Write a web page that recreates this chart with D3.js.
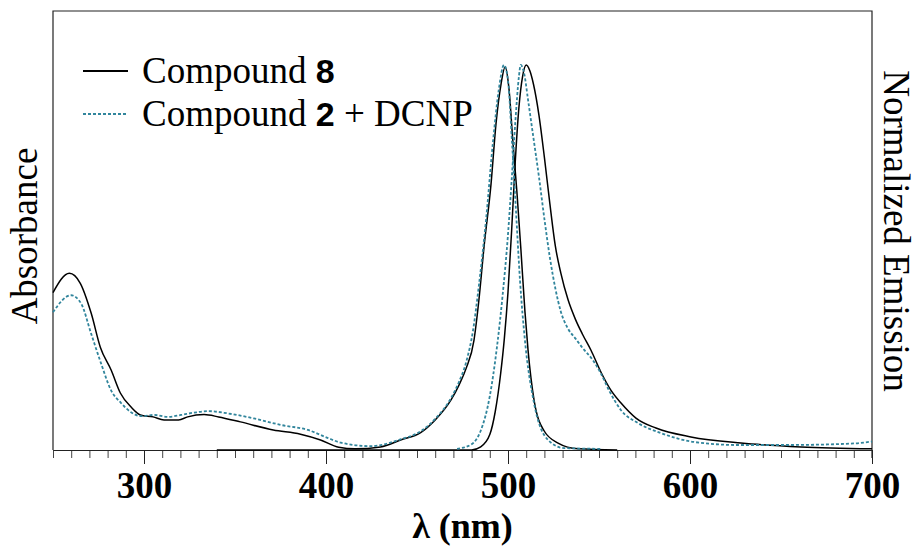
<!DOCTYPE html>
<html>
<head>
<meta charset="utf-8">
<script src="https://cdn.jsdelivr.net/npm/d3@7"></script>
<style>
  body { margin: 0; background: #fff; }
  svg text { font-family: "Liberation Serif", "Times New Roman", serif; }
</style>
</head>
<body>
<svg id="chart" width="916" height="547"></svg>
<script>
// absorbance, compound 8 (wavelength nm, relative)
var abs8 = [
  [250, 0.409], [259, 0.459], [265, 0.433], [271, 0.355], [276, 0.267], [282, 0.207],
  [287, 0.148], [293, 0.111], [298, 0.091], [305, 0.086], [311, 0.078], [319, 0.078],
  [324, 0.086], [333, 0.092], [341, 0.086], [353, 0.073], [371, 0.052], [386, 0.041],
  [397, 0.026], [407, 0.007], [416, 0.003], [430, 0.008], [441, 0.026], [452, 0.045],
  [460, 0.078], [468.7, 0.13], [473, 0.168], [477, 0.212], [481.3, 0.285], [484, 0.389],
  [486.8, 0.526], [490.7, 0.692], [493.4, 0.847], [496.2, 0.951], [498.4, 0.995],
  [500.5, 0.94], [502.7, 0.80], [504.9, 0.67], [507.1, 0.52], [509.3, 0.36], [511, 0.26],
  [514.3, 0.13], [519.8, 0.05], [527.5, 0.018], [538.5, 0.003], [560, 0.0]
];

// emission, compound 8
var em8 = [
  [340, 0.0], [480, 0.0], [485, 0.008], [490, 0.04], [493, 0.10], [496, 0.20], [498, 0.29],
  [500, 0.41], [502, 0.57], [504, 0.75], [506, 0.89], [508, 0.97], [510, 1.0],
  [512, 0.985], [514, 0.95], [517, 0.87], [520, 0.76], [523, 0.64], [526, 0.53],
  [529, 0.46], [533, 0.39], [537, 0.34], [541, 0.30], [545.6, 0.259], [551.1, 0.202],
  [556.6, 0.155], [562.1, 0.122], [570.3, 0.083], [581.3, 0.057], [600.5, 0.034],
  [628, 0.018], [661, 0.008], [700, 0.003]
];

// absorbance, compound 2 + DCNP
var abs2 = [
  [250, 0.358], [259.9, 0.402], [265.4, 0.381], [270.9, 0.303], [276.4, 0.225],
  [281.9, 0.155], [287.4, 0.122], [292.9, 0.098], [298.4, 0.088], [305.5, 0.091],
  [313.2, 0.086], [320.3, 0.091], [327.5, 0.097], [335.2, 0.101], [346.2, 0.095],
  [360.4, 0.082], [375.3, 0.065], [390.1, 0.052], [401.1, 0.031], [408.2, 0.019],
  [424.7, 0.010], [441.2, 0.028], [452.2, 0.049], [460.4, 0.083], [468.7, 0.135],
  [473, 0.176], [477, 0.228], [480.8, 0.311], [484, 0.427], [487.9, 0.596],
  [491.8, 0.803], [495, 0.938], [497.8, 1.0], [500, 0.96], [502.2, 0.80], [504.4, 0.62],
  [506.6, 0.44], [509.3, 0.285], [514.3, 0.122], [522, 0.026], [530.8, 0.005], [551, 0.003]
];

// emission, compound 2 + DCNP
var em2 = [
  [472, 0.003], [480, 0.015], [485, 0.05], [490, 0.14], [494, 0.27], [497, 0.40],
  [500, 0.56], [502, 0.70], [504, 0.85], [506, 0.97], [507, 1.0], [509, 0.975],
  [511, 0.91], [514, 0.81], [517, 0.71], [520, 0.60], [523, 0.50], [526, 0.42],
  [529, 0.36], [533, 0.315], [537, 0.29], [541, 0.265], [546.7, 0.233], [551, 0.199],
  [555.5, 0.155], [562, 0.104], [571.4, 0.070], [584, 0.044], [602, 0.021], [626, 0.013],
  [654, 0.013], [690, 0.017], [700, 0.022]
];

var majorTicks = [300, 400, 500, 600, 700];

var svg = d3.select("#chart"),
    margin = {top: 11, left: 53, bottom: 97, right: 44},
    width = +svg.attr("width"),
    height = +svg.attr("height");

var x = d3.scaleLinear()
    .domain([250, 700])
    .range([margin.left, width - margin.right]);

var y = d3.scaleLinear()
    .domain([0, 1])
    .range([height - margin.bottom, 65]);

var black = "#000",
    teal = "#31859c";

// frame
svg.append("path")
    .attr("d", `M${x(250)},${y(0)}V${margin.top}H${x(700)}V${y(0) + 8}`)
    .attr("fill", "none")
    .attr("stroke", "#222")
    .attr("stroke-width", 1.2);

// minor ticks every 10 nm
var xMinor = svg.append("g")
    .attr("transform", `translate(0,${y(0)})`)
    .call(d3.axisBottom(x).tickValues(d3.range(250, 701, 10)).tickSize(8).tickFormat(""));
xMinor.select(".domain").remove();
xMinor.selectAll("line").attr("stroke", "#444");

var xAxis = svg.append("g")
    .attr("transform", `translate(0,${y(0)})`)
    .call(d3.axisBottom(x).tickValues(majorTicks).tickSize(14).tickSizeOuter(0).tickPadding(8));
xAxis.select(".domain").attr("stroke", "#222").attr("stroke-width", 1.2);
xAxis.selectAll("line").attr("stroke", "#222");
xAxis.selectAll("text")
    .attr("fill", "#000")
    .style("font-family", "'Liberation Serif', serif")
    .style("font-weight", "bold")
    .style("font-size", "37px")
    .attr("dy", "0.7em");

var line = d3.line()
    .x(d => x(d[0]))
    .y(d => y(d[1]))
    .curve(d3.curveMonotoneX);

var series = [
  {data: abs8, color: black, dash: null},
  {data: em8, color: black, dash: null},
  {data: abs2, color: teal, dash: "3,2"},
  {data: em2, color: teal, dash: "3,2"}
];

svg.selectAll(".curve")
    .data(series)
    .enter().append("path")
    .attr("class", "curve")
    .attr("d", d => line(d.data))
    .attr("fill", "none")
    .attr("stroke", d => d.color)
    .attr("stroke-width", d => d.dash ? 1.8 : 1.5)
    .attr("stroke-dasharray", d => d.dash);

// axis titles
svg.append("text")
    .attr("x", (x(250) + x(700)) / 2)
    .attr("y", 538)
    .attr("text-anchor", "middle")
    .style("font-size", "36px")
    .style("font-weight", "bold")
    .text("λ (nm)");

svg.append("text")
    .attr("transform", "translate(37,236) rotate(-90)")
    .attr("text-anchor", "middle")
    .style("font-size", "37px")
    .text("Absorbance");

svg.append("text")
    .attr("transform", "translate(884,231) rotate(90)")
    .attr("text-anchor", "middle")
    .style("font-size", "37px")
    .text("Normalized Emission");

// legend
var legend = [
  {pre: "Compound ", num: "8", post: "", color: black, dash: null},
  {pre: "Compound ", num: "2", post: " + DCNP", color: teal, dash: "3,2"}
];

var lg = svg.selectAll(".legend")
    .data(legend)
    .enter().append("g")
    .attr("class", "legend")
    .attr("transform", (d, i) => `translate(0,${71 + i * 43})`);

lg.append("line")
    .attr("x1", 83).attr("x2", 128)
    .attr("stroke", d => d.color)
    .attr("stroke-width", 1.8)
    .attr("stroke-dasharray", d => d.dash);

var lt = lg.append("text")
    .attr("x", 142)
    .attr("y", 12)
    .style("font-size", "37px");
lt.append("tspan").text(d => d.pre);
lt.append("tspan")
    .style("font-family", "'Liberation Sans', Arial, sans-serif")
    .style("font-weight", "bold")
    .style("font-size", "34px")
    .text(d => d.num);
lt.append("tspan").text(d => d.post);
</script>
</body>
</html>
